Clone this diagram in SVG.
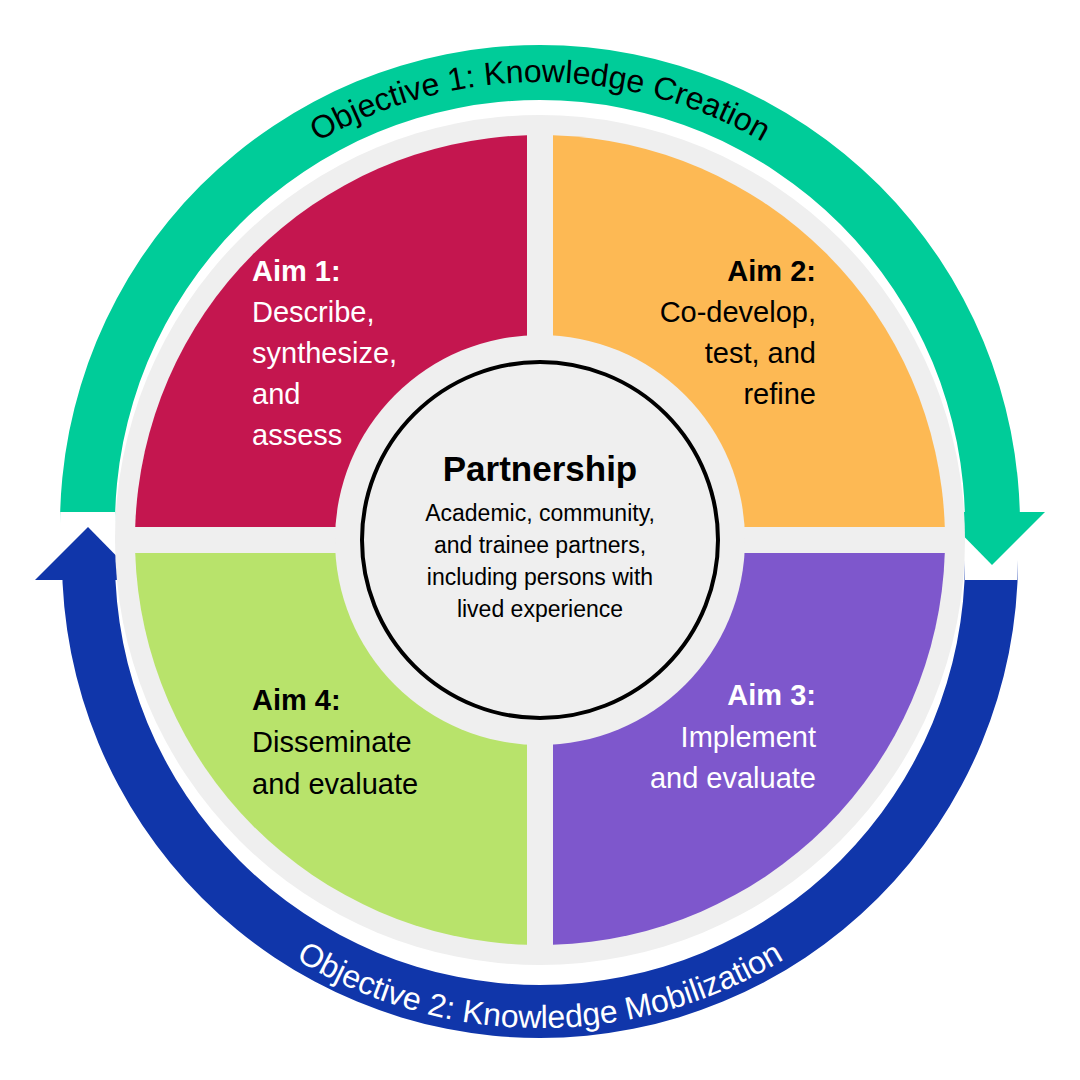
<svg xmlns="http://www.w3.org/2000/svg" width="1080" height="1080" viewBox="0 0 1080 1080">
<style>
text{font-family:"Liberation Sans",Arial,sans-serif}
.aim{font-size:29px}
.b{font-weight:bold}
.obj{font-size:32px}
</style>
<defs>
<path id="topArc" d="M97,525 A443,443 0 0 1 983,525"/>
<path id="botArc" d="M72,560 A468,468 0 0 0 1008,560"/>
</defs>
<rect width="1080" height="1080" fill="#fff"/>
<g id="connectors">
<path d="M60,512 L60,525 A480,480 0 0 1 1020,525 L1020,512 L965,512 L965,525 A425,425 0 0 0 115,525 L115,512 Z" fill="#00CC99"/>
<polygon points="940,512 1045,512 992,565" fill="#00CC99"/>
<path d="M62,580 L62,560 A478,478 0 0 0 1018,560 L1018,580 L965,580 L965,560 A425,425 0 0 1 115,560 L115,580 Z" fill="#1036AA"/>
<polygon points="35,580 140,580 88,527" fill="#1036AA"/>
<text class="obj" fill="#000"><textPath href="#topArc" startOffset="50%" text-anchor="middle">Objective 1: Knowledge Creation</textPath></text>
<text class="obj" fill="#fff"><textPath href="#botArc" startOffset="50%" text-anchor="middle">Objective 2: Knowledge Mobilization</textPath></text>
</g>
<circle cx="540" cy="540" r="425" fill="#efefef"/>
<g id="aim1">
<path d="M527,527 L527,135.2 A405,405 0 0 0 135.2,527 Z" fill="#C4164F"/>
<text class="aim" fill="#fff" x="252"><tspan class="b" y="281">Aim 1:</tspan><tspan x="252" y="322">Describe,</tspan><tspan x="252" y="363">synthesize,</tspan><tspan x="252" y="404">and</tspan><tspan x="252" y="445">assess</tspan></text>
</g>
<g id="aim2">
<path d="M553,527 L553,135.2 A405,405 0 0 1 944.8,527 Z" fill="#FDB954"/>
<text class="aim" fill="#000" text-anchor="end"><tspan class="b" x="816" y="281">Aim 2:</tspan><tspan x="816" y="322">Co-develop,</tspan><tspan x="816" y="363">test, and</tspan><tspan x="816" y="404">refine</tspan></text>
</g>
<g id="aim3">
<path d="M553,553 L553,944.8 A405,405 0 0 0 944.8,553 Z" fill="#7E57CC"/>
<text class="aim" fill="#fff" text-anchor="end"><tspan class="b" x="816" y="705">Aim 3:</tspan><tspan x="816" y="747">Implement</tspan><tspan x="816" y="788">and evaluate</tspan></text>
</g>
<g id="aim4">
<path d="M527,553 L527,944.8 A405,405 0 0 1 135.2,553 Z" fill="#B8E36B"/>
<text class="aim" fill="#000" x="252"><tspan class="b" y="710">Aim 4:</tspan><tspan x="252" y="752">Disseminate</tspan><tspan x="252" y="794">and evaluate</tspan></text>
</g>
<g id="partnership">
<circle cx="540" cy="540" r="205" fill="#efefef"/>
<circle cx="540" cy="540" r="178" fill="#efefef" stroke="#000" stroke-width="4"/>
<text x="540" y="481" text-anchor="middle" font-size="35" font-weight="bold">Partnership</text>
<text text-anchor="middle" font-size="23"><tspan x="540" y="521">Academic, community,</tspan><tspan x="540" y="553">and trainee partners,</tspan><tspan x="540" y="585">including persons with</tspan><tspan x="540" y="617">lived experience</tspan></text>
</g>
</svg>
